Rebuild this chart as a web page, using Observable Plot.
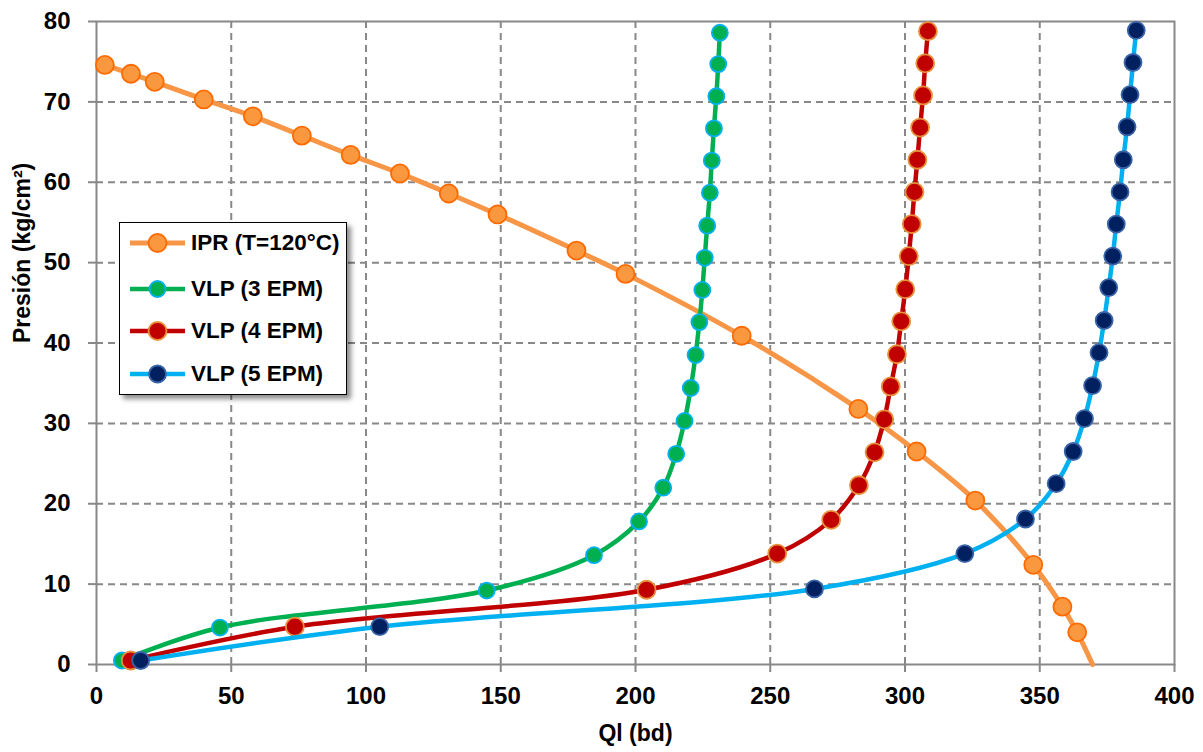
<!DOCTYPE html>
<html><head><meta charset="utf-8">
<script src="https://cdn.jsdelivr.net/npm/d3@7"></script>
<script src="https://cdn.jsdelivr.net/npm/@observablehq/plot@0.6"></script>
<style>
body{margin:0;background:#fff;}
#wrap{position:relative;width:1203px;height:752px;}
#legend{position:absolute;left:119px;top:222px;width:228px;height:173px;border:1.5px solid #000;background:#fff;box-shadow:4px 4px 5px rgba(0,0,0,0.45);box-sizing:border-box;}
.row{position:absolute;left:0;height:30px;display:flex;align-items:center;}
.row span{font-family:"Liberation Sans Narrow","Arial Narrow","Liberation Sans",Arial,sans-serif;font-weight:bold;font-size:22.5px;color:#000;margin-left:3px;white-space:nowrap;}
</style></head>
<body><div id="wrap"><div id="legend"></div></div>
<script>
const FONT = '"Liberation Sans Narrow","Arial Narrow","Liberation Sans",Arial,sans-serif';
const xTicks = [0, 50, 100, 150, 200, 250, 300, 350, 400];
const yTicks = [0, 10, 20, 30, 40, 50, 60, 70, 80];

const seriesNames = ["IPR (T=120°C)", "VLP (3 EPM)", "VLP (4 EPM)", "VLP (5 EPM)"];

const iprQ = [3.1, 12.8, 21.6, 39.8, 58.0, 76.2, 94.3, 112.6, 130.7, 148.8, 178.1, 196.3, 239.4, 282.7, 304.3, 326.1, 347.6, 358.4, 363.9];
const iprP = [74.6, 73.5, 72.5, 70.3, 68.2, 65.8, 63.4, 61.1, 58.6, 56.0, 51.5, 48.6, 40.9, 31.8, 26.5, 20.4, 12.4, 7.2, 4.0];
const iprEndQ = 369.6, iprEndP = 0;

const vlp3Q = [9.4, 45.8, 144.8, 184.6, 201.3, 210.3, 215.1, 218.2, 220.5, 222.3, 223.7, 224.8, 225.7, 226.6, 227.6, 228.3, 229.1, 230.0, 230.7, 231.3];
const vlp3P = [0.5, 4.6, 9.2, 13.6, 17.8, 22.0, 26.2, 30.3, 34.4, 38.5, 42.6, 46.6, 50.6, 54.6, 58.7, 62.7, 66.7, 70.7, 74.7, 78.6];

const vlp4Q = [12.7, 73.6, 204.1, 252.6, 272.6, 282.9, 288.7, 292.3, 294.7, 297.0, 298.6, 300.1, 301.4, 302.5, 303.5, 304.6, 305.6, 306.7, 307.5, 308.5];
const vlp4P = [0.5, 4.7, 9.3, 13.8, 18.0, 22.3, 26.4, 30.5, 34.6, 38.6, 42.7, 46.7, 50.8, 54.8, 58.8, 62.8, 66.8, 70.8, 74.8, 78.8];

const vlp5Q = [16.4, 105.1, 266.4, 322.2, 344.7, 356.1, 362.4, 366.6, 369.6, 372.0, 373.9, 375.6, 377.1, 378.4, 379.8, 381.0, 382.4, 383.5, 384.6, 385.8];
const vlp5P = [0.5, 4.7, 9.4, 13.8, 18.1, 22.5, 26.5, 30.6, 34.7, 38.8, 42.8, 46.9, 50.8, 54.8, 58.8, 62.8, 66.9, 70.9, 74.9, 78.9];

const styles = [
  {line: "#F79646", fill: "#F9983F", stroke: "#FF6A00", r: 9, lw: 5},
  {line: "#00B050", fill: "#00B050", stroke: "#00B0F0", r: 8, lw: 4.5},
  {line: "#C00000", fill: "#C00000", stroke: "#E8913C", r: 9, lw: 4.5},
  {line: "#00B0F0", fill: "#002060", stroke: "#3A64A8", r: 8.5, lw: 4.5}
];

const zip = (q, p) => q.map((v, i) => ({q: v, p: p[i]}));
const iprPts = zip(iprQ, iprP);
const iprLine = [...iprPts, {q: iprEndQ, p: iprEndP}];
const sets = [
  {line: iprLine, pts: iprPts},
  {line: zip(vlp3Q, vlp3P), pts: zip(vlp3Q, vlp3P)},
  {line: zip(vlp4Q, vlp4P), pts: zip(vlp4Q, vlp4P)},
  {line: zip(vlp5Q, vlp5P), pts: zip(vlp5Q, vlp5P)}
];

const seriesMarks = [];
sets.forEach((s, i) => {
  const st = styles[i];
  seriesMarks.push(Plot.line(s.line, {x: "q", y: "p", stroke: st.line, strokeWidth: st.lw, curve: "catmull-rom"}));
  seriesMarks.push(Plot.dot(s.pts, {x: "q", y: "p", r: st.r, fill: st.fill, stroke: st.stroke, strokeWidth: 1.8}));
});

const chart = Plot.plot({
  width: 1203, height: 752,
  marginLeft: 96, marginRight: 29, marginTop: 21, marginBottom: 88,
  x: {domain: [0, 400]},
  y: {domain: [0, 80]},
  style: {fontFamily: FONT, fontSize: "24px", fontWeight: "bold", color: "#000", background: "#fff"},
  marks: [
    Plot.gridX(xTicks.slice(1, -1), {stroke: "#888", strokeOpacity: 1, strokeWidth: 2, strokeDasharray: "7,5"}),
    Plot.gridY(yTicks.slice(1, -1), {stroke: "#888", strokeOpacity: 1, strokeWidth: 2, strokeDasharray: "7,5"}),
    Plot.frame({stroke: "#888", strokeWidth: 2}),
    Plot.axisX(xTicks, {tickSize: 8, tickPadding: 14, stroke: "#888", strokeWidth: 2, label: null, fill: "#000"}),
    Plot.axisY(yTicks, {tickSize: 8, tickPadding: 18, stroke: "#888", strokeWidth: 2, label: null, fill: "#000"}),
    Plot.text(["Ql (bd)"], {frameAnchor: "bottom", dy: 76, fontSize: 23, fontWeight: "bold", fill: "#000"}),
    Plot.text(["Presión (kg/cm²)"], {frameAnchor: "left", dx: -74, rotate: -90, fontSize: 23, fontWeight: "bold", fill: "#000"}),
    ...seriesMarks
  ]
});
document.getElementById("wrap").prepend(chart);

const legend = document.getElementById("legend");
const rowTops = [5, 51, 93, 136];
seriesNames.forEach((name, i) => {
  const st = styles[i];
  const row = document.createElement("div");
  row.className = "row";
  row.style.top = rowTops[i] + "px";
  const ns = "http://www.w3.org/2000/svg";
  const svg = document.createElementNS(ns, "svg");
  svg.setAttribute("width", 68); svg.setAttribute("height", 30);
  const ln = document.createElementNS(ns, "line");
  ln.setAttribute("x1", 10); ln.setAttribute("x2", 65); ln.setAttribute("y1", 15); ln.setAttribute("y2", 15);
  ln.setAttribute("stroke", st.line); ln.setAttribute("stroke-width", st.lw);
  const c = document.createElementNS(ns, "circle");
  c.setAttribute("cx", 37.5); c.setAttribute("cy", 15); c.setAttribute("r", st.r);
  c.setAttribute("fill", st.fill); c.setAttribute("stroke", st.stroke); c.setAttribute("stroke-width", 1.8);
  svg.append(ln, c);
  const sp = document.createElement("span");
  sp.textContent = name;
  row.append(svg, sp);
  legend.append(row);
});
</script></body></html>
